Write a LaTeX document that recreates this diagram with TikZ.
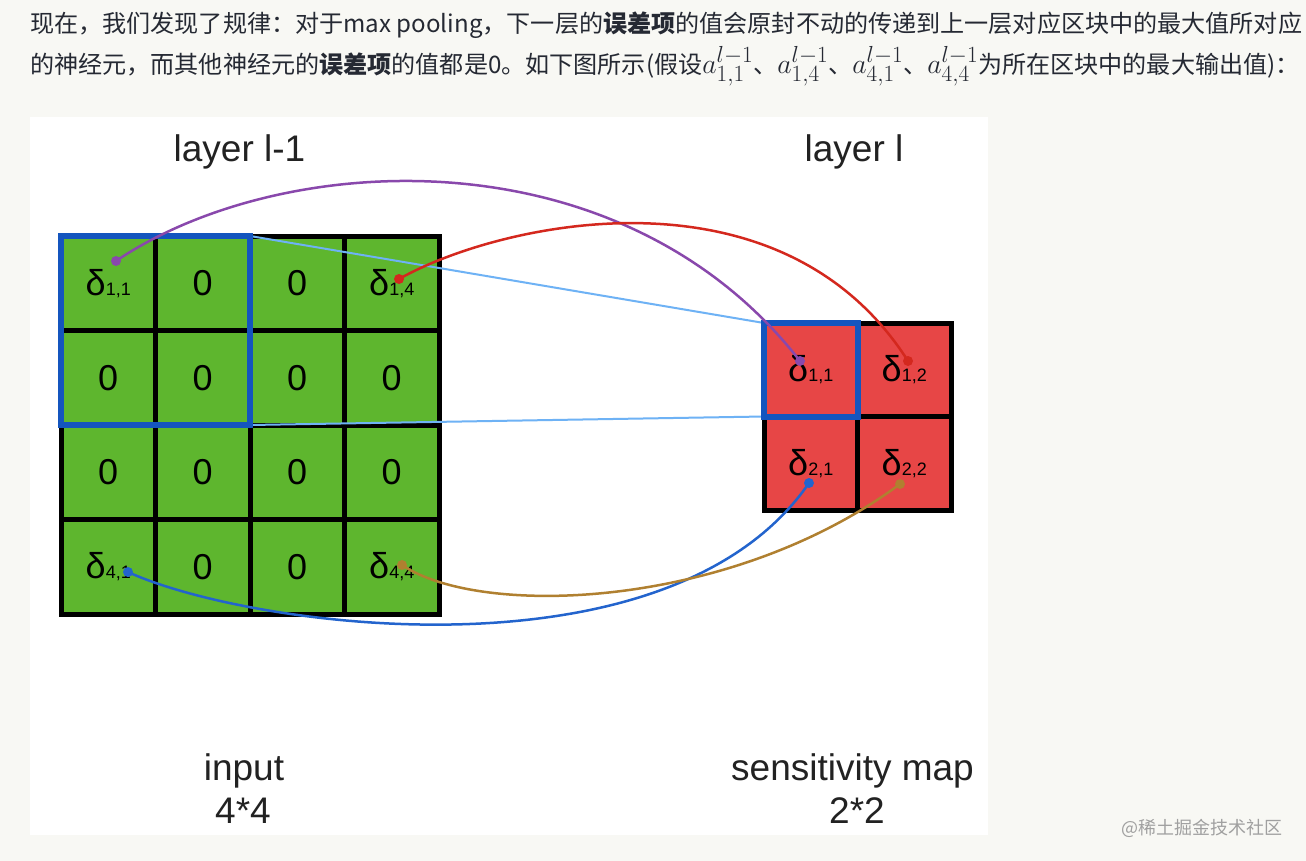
\documentclass[tikz,border=0pt]{standalone}
\usepackage{fontspec}
\setmainfont{Liberation Sans}
\newfontfamily\cjk{Noto Sans CJK SC}
\definecolor{pagebg}{RGB}{248,248,244}
\definecolor{hdr}{RGB}{37,41,51}
\definecolor{cellgreen}{RGB}{94,182,46}
\definecolor{cellred}{RGB}{231,70,70}
\definecolor{frameblue}{RGB}{20,85,190}
\definecolor{lineblue}{RGB}{110,178,245}
\definecolor{cpurple}{RGB}{137,72,172}
\definecolor{cred}{RGB}{212,40,30}
\definecolor{cblue}{RGB}{35,100,205}
\definecolor{cbrown}{RGB}{176,128,48}
\definecolor{lbl}{RGB}{34,34,34}
\definecolor{wmgray}{RGB}{160,160,160}
\newcommand{\dl}[2]{δ{\fontsize{18}{18}\selectfont #1,#2}}
\newcommand{\am}[1]{{\fontsize{24.88}{24.88}\selectfont\scalebox{1.12}{$a^{l-1}_{#1}$}}}
\begin{document}
\begin{tikzpicture}[x=1pt,y=-1pt,
  gcell/.style={draw=black, line width=5pt, fill=cellgreen, minimum size=94.5pt, inner sep=0pt, outer sep=0pt, font=\fontsize{36}{36}\selectfont, text=black},
  rcell/.style={gcell, fill=cellred, minimum size=93.5pt},
  conn/.style={line width=2.5pt},
  bframe/.style={draw=frameblue, line width=6pt},
  guide/.style={draw=lineblue, line width=2pt},
  lab/.style={font=\fontsize{37}{37}\selectfont, text=lbl, inner sep=0pt, anchor=base},
  hline/.style={font=\cjk\fontsize{24.1}{24.1}\selectfont, text=hdr, inner sep=0pt, anchor=base west},
]
\fill[pagebg] (0,0) rectangle (1306,861);
\useasboundingbox (0,0) rectangle (1306,861);
\fill[white] (30,117) rectangle (988,835);

% header text
\node[hline] (t1) at (30,33) {现在，我们发现了规律：对于max pooling，下一层的\textbf{误差项}的值会原封不动的传递到上一层对应区块中的最大值所对应};
\node[hline] (t2) at (30,74) {的神经元，而其他神经元的\textbf{误差项}的值都是0。如下图所示(假设\am{1,1}、\am{1,4}、\am{4,1}、\am{4,4}为所在区块中的最大输出值)：};

% labels
\node[lab] (ll1) at (239.5,162) {layer l-1};
\node[lab] (ll) at (854,162) {layer l};
\node[lab] (in1) at (244,780) {input};
\node[lab] (in2) at (243,823) {4*4};
\node[lab] (sm1) at (852.5,780) {sensitivity map};
\node[lab] (sm2) at (857,823) {2*2};

% input grid
\node[gcell] (g11) at (108.25,283.25) {\dl{1}{1}};
\node[gcell] (g12) at (202.75,283.25) {0};
\node[gcell] (g13) at (297.25,283.25) {0};
\node[gcell] (g14) at (391.75,283.25) {\dl{1}{4}};
\node[gcell] (g21) at (108.25,377.75) {0};
\node[gcell] (g22) at (202.75,377.75) {0};
\node[gcell] (g23) at (297.25,377.75) {0};
\node[gcell] (g24) at (391.75,377.75) {0};
\node[gcell] (g31) at (108.25,472.25) {0};
\node[gcell] (g32) at (202.75,472.25) {0};
\node[gcell] (g33) at (297.25,472.25) {0};
\node[gcell] (g34) at (391.75,472.25) {0};
\node[gcell] (g41) at (108.25,566.75) {\dl{4}{1}};
\node[gcell] (g42) at (202.75,566.75) {0};
\node[gcell] (g43) at (297.25,566.75) {0};
\node[gcell] (g44) at (391.75,566.75) {\dl{4}{4}};

% sensitivity map
\node[rcell] (r11) at (810.75,369.75) {\dl{1}{1}};
\node[rcell] (r12) at (904.25,369.75) {\dl{1}{2}};
\node[rcell] (r21) at (810.75,463.25) {\dl{2}{1}};
\node[rcell] (r22) at (904.25,463.25) {\dl{2}{2}};

% guide lines
\draw[guide] (g12.north east) -- (r11.north west);
\draw[guide] (g22.south east) -- (r11.south west);

% blue frames
\draw[bframe] (g11.north west) rectangle (g22.south east);
\draw[bframe] (r11.north west) rectangle (r11.south east);

% dots
\coordinate (pa) at (116,261);
\coordinate (pb) at (800,361);
\coordinate (ra) at (399,279);
\coordinate (rb) at (908,361);
\coordinate (ba) at (128,572);
\coordinate (bb) at (809,483);
\coordinate (oa) at (402,565);
\coordinate (ob) at (900,484);

\draw[conn, cpurple] (pa) .. controls (280,150) and (620,130) .. (pb);
\draw[conn, cred] (ra) .. controls (500,222) and (780,160) .. (rb);
\draw[conn, cblue] (ba) .. controls (250,628) and (670,685) .. (bb);
\draw[conn, cbrown] (oa) .. controls (480,618) and (730,610) .. (ob);

\fill[cpurple] (pa) circle[radius=5pt] (pb) circle[radius=5pt];
\fill[cred] (ra) circle[radius=5pt] (rb) circle[radius=5pt];
\fill[cblue] (ba) circle[radius=5pt] (bb) circle[radius=5pt];
\fill[cbrown] (oa) circle[radius=5pt] (ob) circle[radius=5pt];

% watermark
\node[font=\cjk\fontsize{18}{18}\selectfont, text=wmgray, anchor=east, inner sep=0pt] (wm) at (1283,828) {@稀土掘金技术社区};
\end{tikzpicture}
\end{document}
